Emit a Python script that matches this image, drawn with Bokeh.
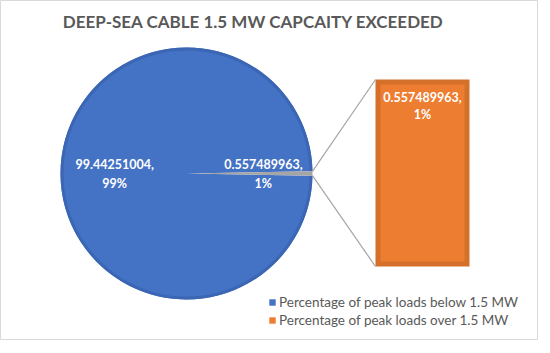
import numpy as np
from bokeh.plotting import figure
from bokeh.models import Range1d, Legend, LegendItem
from bokeh.core.properties import value
from bokeh.embed import file_html
from bokeh.resources import INLINE

# ---- data ----
categories = ["Percentage of peak loads below 1.5 MW", "Percentage of peak loads over 1.5 MW"]
values = [99.44251004, 0.557489963]
pct_labels = ["99%", "1%"]
title_text = "DEEP-SEA CABLE 1.5 MW CAPCAITY EXCEEDED"

BLUE = "#4472C4"
BLUE_EDGE = "#3B66B3"
GREY = "#A5A5A5"
ORANGE = "#ED7D31"
ORANGE_EDGE = "#D5702B"
TXT = "#595959"
FONT = "Lato"

W, H = 538, 340
p = figure(width=W, height=H, output_backend="svg", toolbar_location=None,
           x_range=Range1d(8, 8 + W), y_range=Range1d(8 + H, 8),
           min_border=0, background_fill_color="white", border_fill_color="white",
           outline_line_color="#D9D9D9", outline_line_width=1)
p.axis.visible = False
p.grid.visible = False

# pie geometry (screen-like coordinates)
cx, cy, r = 194.0, 181.0, 126.0
total = sum(values)
theta = 2 * np.pi * values[1] / total
a0, a1 = theta / 2, 2 * np.pi - theta / 2

blue = p.wedge(x=[cx], y=[cy], radius=r, radius_units="screen",
               start_angle=a0, end_angle=a1, fill_color=BLUE, line_color=None)
p.arc(x=[cx], y=[cy], radius=r - 1.5, radius_units="screen", start_angle=a0, end_angle=a1,
      line_color=BLUE_EDGE, line_width=3)
p.wedge(x=[cx], y=[cy], radius=r, radius_units="screen",
        start_angle=-theta / 2, end_angle=theta / 2, fill_color=GREY, line_color=None)

# bar of pie (secondary plot)
bx0, bx1, by_bottom, bh = 383.0, 477.0, 274.0, 187.0
sec_vals = [values[1]]
bar_top = by_bottom - bh * sec_vals[0] / sum(sec_vals)
p.quad(left=[bx0], right=[bx1], top=[bar_top], bottom=[by_bottom],
       fill_color=ORANGE_EDGE, line_color=None)
orange = p.quad(left=[bx0 + 5], right=[bx1 - 5], top=[bar_top + 5], bottom=[by_bottom - 5],
                fill_color=ORANGE, line_color=None)

# connector lines
ex = cx + r * np.cos(theta / 2)
dy = r * np.sin(theta / 2)
p.segment(x0=[ex, ex], y0=[cy - dy, cy + dy], x1=[bx0, bx0], y1=[bar_top, by_bottom],
          line_color=GREY, line_width=1.2)

# data labels
lab_font = dict(text_font=value(FONT), text_font_style="bold", text_font_size="12.5px",
                text_color="white", text_align="center", text_baseline="middle")
fmt = lambda v: repr(v) + ","
lx_blue = cx - 0.57 * r
lx_grey = cx + 0.61 * r
p.text(x=[lx_blue, lx_blue], y=[cy - 9.5, cy + 9.5],
       text=[fmt(values[0]), pct_labels[0]], **lab_font)
p.text(x=[lx_grey, lx_grey], y=[cy - 9.5, cy + 9.5],
       text=[fmt(values[1]), pct_labels[1]], **lab_font)
bcx = (bx0 + bx1) / 2
p.text(x=[bcx, bcx], y=[bar_top + 17, bar_top + 35],
       text=[fmt(values[1]), pct_labels[1]], **lab_font)

# title
p.text(x=[261], y=[29], text=[title_text], text_font=value(FONT), text_font_style="bold",
       text_font_size="17px", text_color=TXT, text_align="center", text_baseline="middle")

legend = Legend(items=[LegendItem(label=categories[0], renderers=[blue]),
                       LegendItem(label=categories[1], renderers=[orange])],
                location=(268, 12), orientation="vertical",
                label_text_font=FONT, label_text_font_size="13.5px", label_text_color=TXT,
                glyph_width=8, glyph_height=8, label_standoff=3, label_height=14,
                spacing=2, padding=0, margin=0, border_line_color=None,
                background_fill_alpha=0)
p.add_layout(legend, "center")

open("out.html", "w").write(file_html(p, INLINE))
